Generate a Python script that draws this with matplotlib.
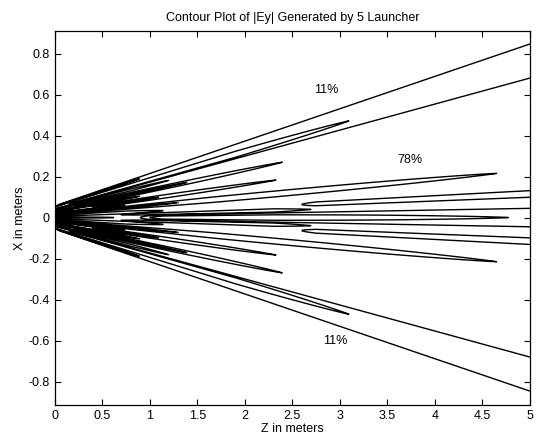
import numpy as np
import matplotlib
matplotlib.use("Agg")
import matplotlib.pyplot as plt

# ---- chart text / ticks ----
title = "Contour Plot of |Ey| Generated by 5 Launcher"
xlabel = "Z in meters"
ylabel = "X in meters"
xticks = [0, 0.5, 1, 1.5, 2, 2.5, 3, 3.5, 4, 4.5, 5]
xticklabels = ["0", "0.5", "1", "1.5", "2", "2.5", "3", "3.5", "4", "4.5", "5"]
yticks = [-0.8, -0.6, -0.4, -0.2, 0, 0.2, 0.4, 0.6, 0.8]
yticklabels = ["-0.8", "-0.6", "-0.4", "-0.2", "0", "0.2", "0.4", "0.6", "0.8"]
label_text = ["11%", "78%", "11%"]
label_z = [2.86, 3.74, 2.95]
label_x = [0.62, 0.28, -0.60]

# ---- beam-lobe model of |Ey| (upper half, mirrored to lower half) ----
# centre slope u = x/(z+z_src), half width in u, start z, end (tip) z, tip taper length, sign
lobe_center = [0.1425, 0.1365, 0.098, 0.068, 0.043, 0.0215, 0.0, 0.0]
lobe_width = [0.0155, 0.0065, 0.0075, 0.0075, 0.0065, 0.003, 0.0084, 0.005]
lobe_start = [-1.0, -1.0, -1.0, -1.0, -1.0, 2.6, 0.9, 1.0]
lobe_end = [10.0, 3.1, 2.4, 2.33, 4.65, 10.0, 10.0, 4.79]
lobe_taper = [1.0, 1.2, 1.6, 1.8, 3.0, 1.0, 1.0, 2.5]
lobe_sign = [1, -1, 1, 1, 1, 1, 1, -1]

# near-field (interference) lobes close to the launcher mouth
near_center = [0.1165, 0.083, 0.0548, 0.0225, 0.013, 0.0, 0.151, 0.0435, 0.098, 0.068, 0.1365]
near_width = [0.004, 0.003, 0.002, 0.006, 0.003, 0.004, 0.003, 0.002, 0.002, 0.002, 0.002]
near_start = [-1.0, -1.0, -1.0, -1.0, 0.7, -1.0, -1.0, -1.0, 0.2, 0.4, 0.2]
near_end = [1.2, 0.9, 0.75, 1.15, 2.7, 0.65, 0.9, 1.3, 1.4, 1.1, 1.0]
near_sign = [1, 1, 1, 1, 1, 1, -1, -1, -1, -1, 1]
z_src = 0.36

z = np.linspace(0, 5, 1500)
x = np.linspace(-0.92, 0.92, 1800)
Z, X = np.meshgrid(z, x)
U = X / (Z + z_src)
eps = 0.0007

def spow(t, p):
    return np.sign(t) * np.abs(t) ** p

def lobe(c, w, zs, ze, de):
    te = (ze - Z) / de
    ts = (Z - zs) / 0.15
    f = np.minimum(1.0, np.minimum(spow(te, 0.8), spow(ts, 0.5)))
    W = w * f
    d = np.abs(U - c)
    return 1 / (1 + np.exp(np.clip(-(W - d) * (Z + z_src) / eps, -50, 50)))

pos = np.zeros_like(Z)
neg = np.zeros_like(Z)
pos2 = np.zeros_like(Z)
specs = list(zip(lobe_center, lobe_width, lobe_start, lobe_end, lobe_taper, lobe_sign))
specs += [(c, w, zs, ze, 0.4, s) for c, w, zs, ze, s in
          zip(near_center, near_width, near_start, near_end, near_sign)]
for i, (c, w, zs, ze, de, s) in enumerate(specs):
    for cc in ([c] if c == 0 else [c, -c]):
        g = lobe(cc, w, zs, ze, de)
        if s > 0:
            pos = np.maximum(pos, g)
        else:
            neg = np.maximum(neg, g)
F = pos - neg

# ---- figure ----
plt.rcParams['font.family'] = ['Liberation Sans', 'DejaVu Sans']
fig = plt.figure(figsize=(5.37, 4.37), dpi=100)
ax = fig.add_axes([0.102, 0.073, 0.885, 0.856])
ax.contour(Z, X, F, levels=[0.5], colors='black', linewidths=1.0)
ax.set_xlim(0, 5)
ax.set_ylim(-0.915, 0.91)
ax.set_xticks(xticks)
ax.set_xticklabels(xticklabels)
ax.set_yticks(yticks)
ax.set_yticklabels(yticklabels)
ax.tick_params(direction='in', top=True, right=True, labelsize=9, length=4, width=0.8)
for sp in ax.spines.values():
    sp.set_linewidth(0.9)
ax.set_title(title, fontsize=9, pad=7)
ax.set_xlabel(xlabel, fontsize=9, labelpad=1)
ax.set_ylabel(ylabel, fontsize=9, labelpad=2)
for t, zz, xx in zip(label_text, label_z, label_x):
    ax.text(zz, xx, t, ha='center', va='center', fontsize=9)
fig.savefig("out.png", dpi=100)
